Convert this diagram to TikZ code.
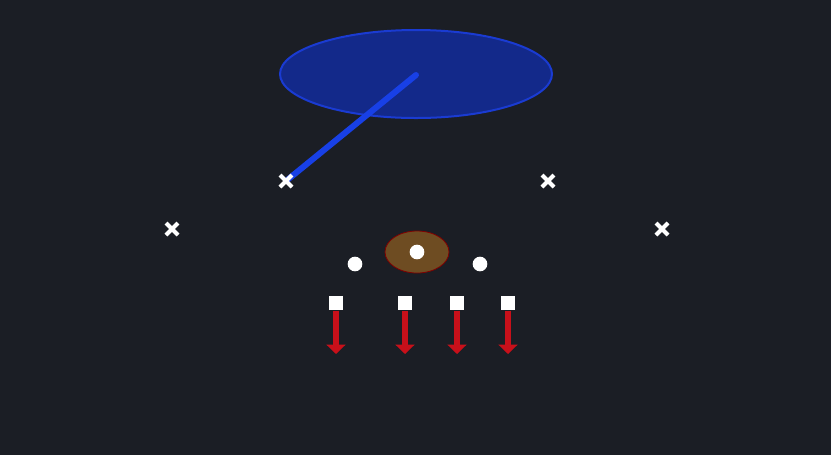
\documentclass[tikz,border=0pt]{standalone}
\usepackage{tikz}
\usetikzlibrary{arrows.meta,shapes.misc}
\definecolor{bgdark}{HTML}{1B1E25}
\definecolor{zonefill}{HTML}{13298A}
\definecolor{zoneedge}{HTML}{1A3BD2}
\definecolor{routeblue}{HTML}{1840E6}
\definecolor{ballbrown}{HTML}{6E4C22}
\definecolor{blockred}{HTML}{C8101A}
\tikzset{
  defx/.style={draw=white,line width=3pt,inner sep=0pt,cross out,minimum width=6pt,minimum height=6pt},
  offdot/.style={circle,fill=white,inner sep=0pt,minimum size=11pt},
  lineman/.style={rectangle,fill=white,inner sep=0pt,minimum size=11pt},
}
\begin{document}
\begin{tikzpicture}[x=0.75pt,y=-0.75pt]
\fill[bgdark] (0,0) rectangle (831,455);
\useasboundingbox (0,0) rectangle (831,455);
% coverage zone
\draw[zoneedge,fill=zonefill,line width=1.5pt] (416,74) ellipse (136 and 44);
\coordinate (zone) at (416,75);
% defenders
\coordinate (slpos) at (286,181);
\draw[routeblue,line width=4.5pt,line cap=round] (slpos) -- (zone);
\node[defx] (cbl) at (172,229) {};
\node[defx] (sl) at (slpos) {};
\node[defx] (sr) at (548,181) {};
\node[defx] (cbr) at (662,229) {};
% ball
\draw[red!50!black,fill=ballbrown,line width=0.6pt] (417,252) ellipse (32 and 21);
\node[offdot] (qb) at (417,252) {};
\node[offdot] (rbl) at (355,264) {};
\node[offdot] (rbr) at (480,264) {};
% line
\foreach \n/\x in {ol1/336,ol2/405,ol3/457,ol4/508} {
    \node[lineman] (\n) at (\x,303) {};
    \coordinate (\n e) at (\x,354);
    \draw[blockred,line width=5pt,-{Triangle[length=7pt,width=14pt]}] (\n.south) -- (\n e);
}
\end{tikzpicture}
\end{document}
